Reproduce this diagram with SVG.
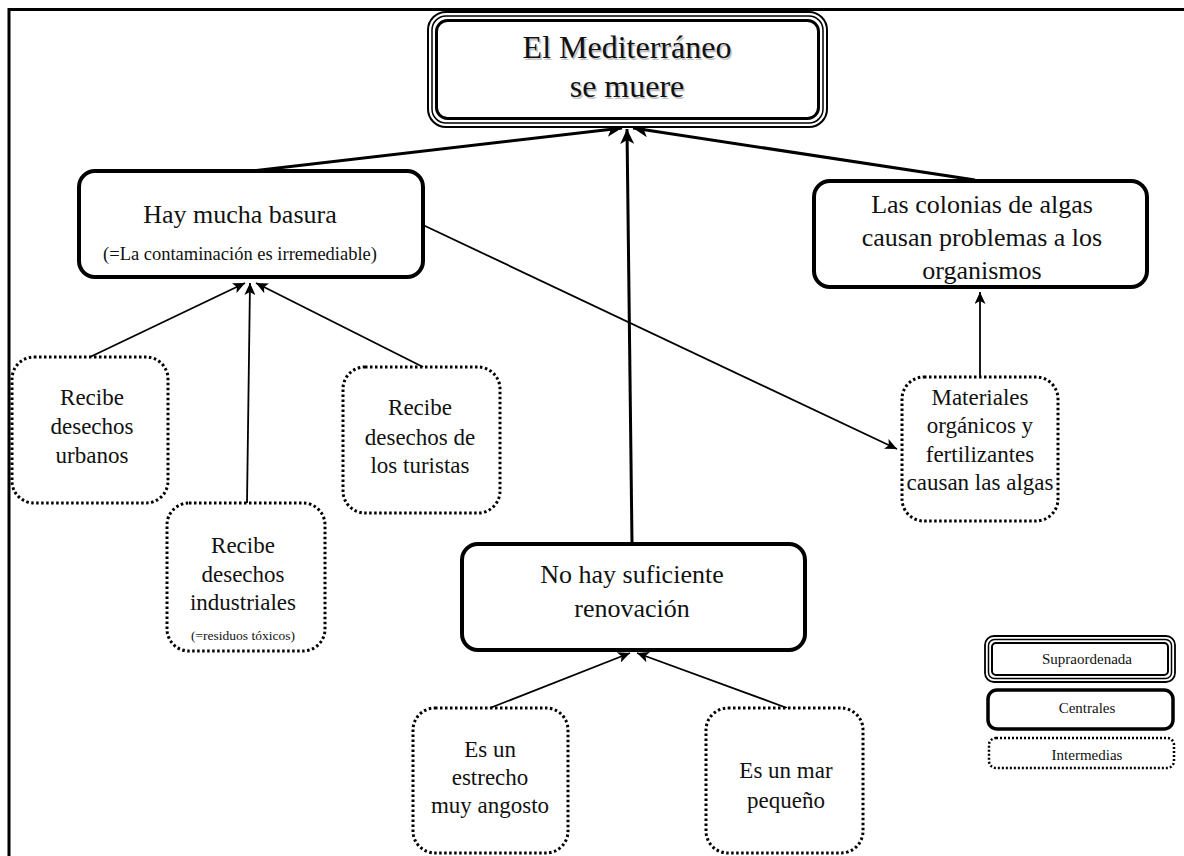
<svg xmlns="http://www.w3.org/2000/svg" width="1184" height="856" viewBox="0 0 1184 856">
<defs>
<marker id="ahThick" markerUnits="userSpaceOnUse" markerWidth="16" markerHeight="14" viewBox="0 0 16 14" refX="15" refY="7" orient="auto">
<path d="M0,0 L15,7 L0,14 L4,7 z" fill="#000"/>
</marker>
<marker id="ahThin" markerUnits="userSpaceOnUse" markerWidth="13" markerHeight="11" viewBox="0 0 13 11" refX="12" refY="5.5" orient="auto">
<path d="M0,0 L12,5.5 L0,11 L3,5.5 z" fill="#000"/>
</marker>
<style>
text{font-family:"Liberation Serif","Times New Roman",serif;fill:#111;text-anchor:middle}
.central{fill:#fff;stroke:#000;stroke-width:4}
.inter{fill:#fff;stroke:#000;stroke-width:3;stroke-dasharray:2.5 2.5}
.t26{font-size:26px}
.t23{font-size:23px}
.thick{stroke:#000;stroke-width:3;fill:none;marker-end:url(#ahThick)}
.thin{stroke:#000;stroke-width:1.8;fill:none;marker-end:url(#ahThin)}
</style>
</defs>
<rect width="1184" height="856" fill="#fff"/>
<g id="frame">
<path d="M9,856 L9,9.5 L1184,9.5" fill="none" stroke="#000" stroke-width="3"/>
</g>
<g id="connectors">
<line class="thick" x1="252" y1="171" x2="622" y2="128"/>
<line class="thick" x1="632" y1="543" x2="627" y2="129"/>
<line class="thick" x1="975" y1="180" x2="633" y2="128"/>
<line class="thin" x1="90" y1="357" x2="245" y2="283"/>
<line class="thin" x1="247" y1="503" x2="250" y2="283"/>
<line class="thin" x1="423" y1="367" x2="256" y2="283"/>
<line class="thin" x1="423" y1="225" x2="897" y2="449"/>
<line class="thin" x1="980" y1="376" x2="980" y2="292"/>
<line class="thin" x1="490" y1="708" x2="630" y2="653"/>
<line class="thin" x1="787" y1="708" x2="637" y2="653"/>
</g>
<g id="n-top">
<rect x="428" y="12" width="399" height="115" rx="18" fill="#fff" stroke="#000" stroke-width="2"/>
<rect x="432" y="16" width="391" height="107" rx="14" fill="none" stroke="#000" stroke-width="1.5"/>
<rect x="436.5" y="20.5" width="382" height="98" rx="11" fill="none" stroke="#000" stroke-width="3"/>
<text x="628.5" y="59.5" style="font-size:32px;fill:#c4c4c4">El Mediterráneo</text>
<text x="628.5" y="98.5" style="font-size:32px;fill:#c4c4c4">se muere</text>
<text x="627" y="58" style="font-size:32px">El Mediterráneo</text>
<text x="627" y="97" style="font-size:32px">se muere</text>
</g>
<g id="n-basura">
<rect class="central" x="79" y="171" width="344" height="106" rx="16"/>
<text class="t26" x="240" y="223">Hay mucha basura</text>
<text x="240" y="260" style="font-size:18.5px">(=La contaminación es irremediable)</text>
</g>
<g id="n-colonias">
<rect class="central" x="814" y="181" width="333" height="106" rx="16"/>
<text class="t26" x="982" y="213">Las colonias de algas</text>
<text class="t26" x="982" y="246">causan problemas a los</text>
<text class="t26" x="982" y="279">organismos</text>
</g>
<g id="n-renovacion">
<rect class="central" x="462" y="544" width="343" height="106" rx="16"/>
<text class="t26" x="632" y="583">No hay suficiente</text>
<text class="t26" x="632" y="617">renovación</text>
</g>
<g id="n-urbanos">
<rect class="inter" x="12" y="357" width="156" height="146" rx="22"/>
<text class="t23" x="92" y="405">Recibe</text>
<text class="t23" x="92" y="434">desechos</text>
<text class="t23" x="92" y="463">urbanos</text>
</g>
<g id="n-industriales">
<rect class="inter" x="167" y="503" width="158" height="148" rx="22"/>
<text class="t23" x="243" y="553">Recibe</text>
<text class="t23" x="243" y="582">desechos</text>
<text class="t23" x="243" y="610">industriales</text>
<text x="243" y="640" style="font-size:13.5px">(=residuos tóxicos)</text>
</g>
<g id="n-turistas">
<rect class="inter" x="343" y="367" width="157" height="146" rx="22"/>
<text class="t23" x="420" y="415">Recibe</text>
<text class="t23" x="420" y="445">desechos de</text>
<text class="t23" x="420" y="473">los turistas</text>
</g>
<g id="n-materiales">
<rect class="inter" x="902" y="377" width="156" height="144" rx="22"/>
<text class="t23" x="980" y="405">Materiales</text>
<text class="t23" x="980" y="433">orgánicos y</text>
<text class="t23" x="980" y="462">fertilizantes</text>
<text class="t23" x="980" y="490">causan las algas</text>
</g>
<g id="n-estrecho">
<rect class="inter" x="413" y="708" width="155" height="145" rx="22"/>
<text class="t23" x="490" y="757">Es un</text>
<text class="t23" x="490" y="785">estrecho</text>
<text class="t23" x="490" y="813">muy angosto</text>
</g>
<g id="n-pequeno">
<rect class="inter" x="706" y="708" width="157" height="145" rx="22"/>
<text class="t23" x="786" y="778">Es un mar</text>
<text class="t23" x="786" y="808">pequeño</text>
</g>
<g id="legend-supra">
<rect x="985" y="636" width="190" height="46" rx="9" fill="#fff" stroke="#000" stroke-width="1.8"/>
<rect x="988.5" y="639.5" width="183" height="39" rx="6" fill="none" stroke="#000" stroke-width="1.5"/>
<rect x="992" y="643" width="176" height="32" rx="4" fill="none" stroke="#000" stroke-width="2"/>
<text x="1087" y="664" style="font-size:15px">Supraordenada</text>
</g>
<g id="legend-central">
<rect class="central" x="988" y="690" width="185" height="39" rx="9" style="stroke-width:3.5"/>
<text x="1087" y="713" style="font-size:15px">Centrales</text>
</g>
<g id="legend-inter">
<rect class="inter" x="989" y="738" width="185" height="30" rx="7" style="stroke-width:2.5;stroke-dasharray:2 2"/>
<text x="1087" y="760" style="font-size:15px">Intermedias</text>
</g>
</svg>
